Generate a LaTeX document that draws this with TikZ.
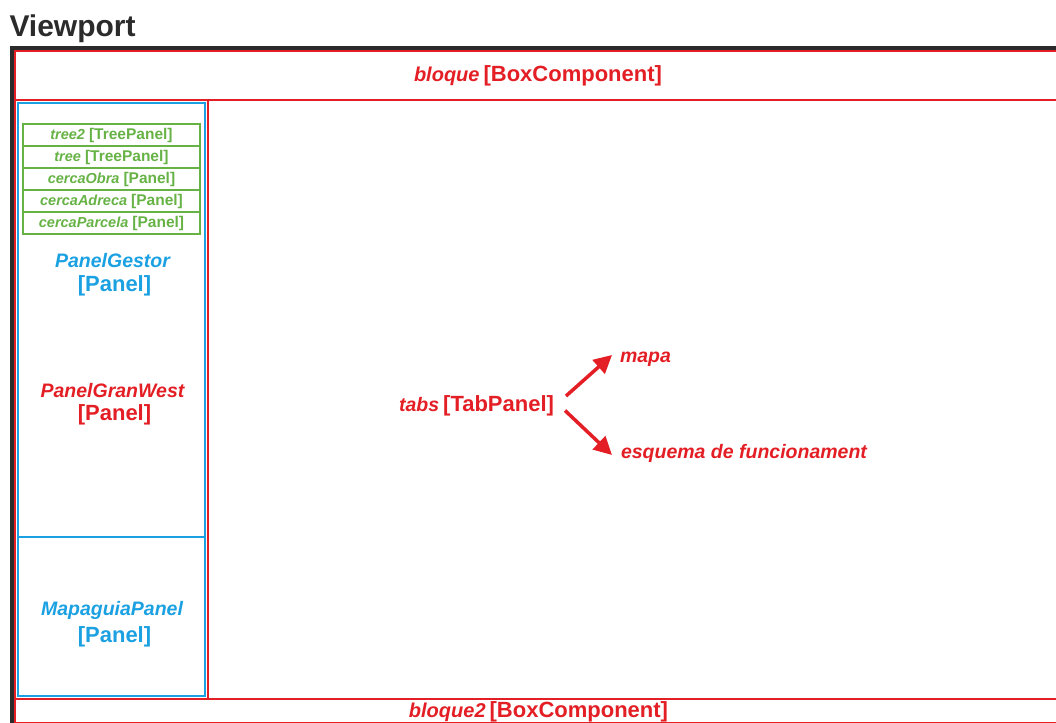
\documentclass[tikz,border=0pt]{standalone}
\usepackage{fontspec}
\setmainfont{Liberation Sans}
\usetikzlibrary{arrows.meta}

\definecolor{vpdark}{RGB}{43,43,43}
\definecolor{cmpred}{RGB}{227,30,36}
\definecolor{cmpblue}{RGB}{27,161,226}
\definecolor{cmpgreen}{RGB}{102,178,69}

% component label: italic instance name followed by its [Class]
\newcommand{\cmplabel}[4]{{\fontsize{#3}{#3}\selectfont\bfseries\itshape #1}\hspace{0.4em}{\fontsize{#4}{#4}\selectfont\bfseries #2}}
\newcommand{\bsize}[2]{{\fontsize{#1}{#1}\selectfont\bfseries #2}}
\newcommand{\isize}[2]{{\fontsize{#1}{#1}\selectfont\bfseries\itshape #2}}

\begin{document}
\begin{tikzpicture}[x=1pt,y=-1pt,
  txt/.style={inner sep=0pt, outer sep=0pt},
  redbox/.style={draw=cmpred, line width=2.5pt},
  bluebox/.style={draw=cmpblue, line width=2.5pt},
  greenbox/.style={draw=cmpgreen, line width=2.4pt, minimum width=177pt,
    minimum height=22pt, inner sep=0pt, text=cmpgreen},
  tabarrow/.style={draw=cmpred, line width=3.5pt,
    -{Triangle[length=18pt,width=18pt]}}
]
\useasboundingbox (0,0) rectangle (1056,722);
\clip (0,0) rectangle (1056,722);

% title
\node[txt, anchor=base west, text=vpdark] (title) at (9.5,37)
  {\bsize{30}{Viewport}};

% viewport frame
\draw[vpdark, line width=4.4pt] (12,760) -- (12,48) -- (1080,48);

% north, centre, west and south regions
\draw[redbox] (15,51) rectangle (1080,100);
\draw[redbox] (15,100) rectangle (1080,699);
\draw[redbox] (15,699) rectangle (1080,723);
\draw[redbox] (15,100) rectangle (208,699);

% west column panels
\draw[bluebox] (18,103) rectangle (205,537);
\draw[bluebox] (18,537) rectangle (205,696);

% stacked search panels
\node[greenbox] (tree2) at (111.5,135)
  {\cmplabel{tree2}{[TreePanel]}{14.5}{15.5}};
\node[greenbox] (tree) at (111.5,157)
  {\cmplabel{tree}{[TreePanel]}{14.5}{15.5}};
\node[greenbox] (obra) at (111.5,179)
  {\cmplabel{cercaObra}{[Panel]}{14.5}{15.5}};
\node[greenbox] (adreca) at (111.5,201)
  {\cmplabel{cercaAdreca}{[Panel]}{14.5}{15.5}};
\node[greenbox] (parcela) at (111.5,223)
  {\cmplabel{cercaParcela}{[Panel]}{14.5}{15.5}};

% region labels
\node[txt, anchor=base, text=cmpred] (bloque) at (538,82)
  {\cmplabel{bloque}{[BoxComponent]}{20}{22}};
\node[txt, anchor=base, text=cmpred] (bloque2) at (538.5,717)
  {\cmplabel{bloque2}{[BoxComponent]}{20}{22}};

\node[txt, anchor=base, text=cmpblue] (gestor) at (112.5,267)
  {\isize{19.5}{PanelGestor}};
\node[txt, anchor=base, text=cmpblue] (gestorT) at (114.5,291.5)
  {\bsize{22}{[Panel]}};

\node[txt, anchor=base, text=cmpred] (granwest) at (112.5,397)
  {\isize{19.5}{PanelGranWest}};
\node[txt, anchor=base, text=cmpred] (granwestT) at (114.5,420.5)
  {\bsize{22}{[Panel]}};

\node[txt, anchor=base, text=cmpblue] (mapaguia) at (112,615)
  {\isize{19.5}{MapaguiaPanel}};
\node[txt, anchor=base, text=cmpblue] (mapaguiaT) at (114.5,642)
  {\bsize{22}{[Panel]}};

% tab panel and its tabs
\node[txt, anchor=base east, text=cmpred] (tabs) at (554,411.5)
  {\cmplabel{tabs}{[TabPanel]}{19.5}{22}};
\node[txt, anchor=base west, text=cmpred] (mapa) at (620,362)
  {\isize{19.5}{mapa}};
\node[txt, anchor=base west, text=cmpred] (esquema) at (621,458)
  {\isize{19.5}{esquema de funcionament}};

\draw[tabarrow] ([shift={(12,-15.5)}]tabs.base east) -- ([shift={(-8,-7)}]mapa.base west);
\draw[tabarrow] ([shift={(11,-1)}]tabs.base east) -- ([shift={(-9,-3)}]esquema.base west);
\end{tikzpicture}
\end{document}
